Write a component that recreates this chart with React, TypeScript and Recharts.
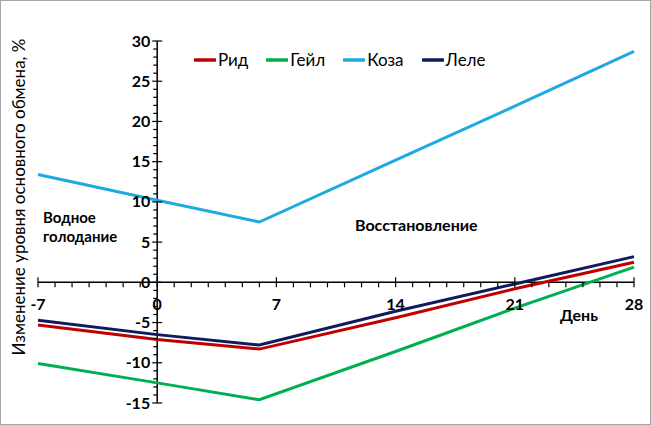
import { LineChart, Line, XAxis, YAxis, ReferenceLine, Legend } from "recharts";

const days = [-7, 0, 6, 14, 21, 28];
const rid = [-5.3, -7.1, -8.3, -4.4, -0.8, 2.5];
const geil = [-10.1, -12.5, -14.6, -8.6, -3.2, 1.9];
const koza = [13.4, 10.2, 7.5, 15.2, 21.9, 28.7];
const lele = [-4.7, -6.5, -7.8, -3.6, -0.2, 3.2];

const xTicks = Array.from({ length: 36 }, (_, i) => i - 7);
const yTicks = Array.from({ length: 46 }, (_, i) => i - 15);

const series = [
  { key: "rid", name: "Рид", color: "#C00000" },
  { key: "geil", name: "Гейл", color: "#00B050" },
  { key: "koza", name: "Коза", color: "#1FA9E1" },
  { key: "lele", name: "Леле", color: "#0E1C5C" },
];

const data = days.map((d, i) => ({
  day: d,
  rid: rid[i],
  geil: geil[i],
  koza: koza[i],
  lele: lele[i],
}));

const W = 651;
const H = 425;
const M = { top: 41, right: 17, bottom: 12, left: 28 };
const Y_AXIS_W = 10;
const X_AXIS_H = 10;
const PLOT_L = M.left + Y_AXIS_W;
const PLOT_W = W - PLOT_L - M.right;
const PLOT_H = H - M.top - M.bottom - X_AXIS_H;
// where the axes cross (value 0 on each)
const X0 = PLOT_L + (7 / 35) * PLOT_W;
const Y0 = M.top + (30 / 45) * PLOT_H;

const FONT = "Lato, 'Open Sans', sans-serif";

const XTick = (props: any) => {
  const { x, payload } = props;
  const v = payload.value;
  const major = v % 7 === 0;
  return (
    <g>
      <line x1={x} x2={x} y1={major ? Y0 - 5 : Y0} y2={Y0 + 5} stroke="#000" strokeWidth={1.2} />
      {major && (
        <text x={x} y={Y0 + 28} textAnchor="middle" fontFamily={FONT} fontWeight="bold" fontSize={16} fill="#000">
          {v}
        </text>
      )}
    </g>
  );
};

const YTick = (props: any) => {
  const { y, payload } = props;
  const v = payload.value;
  const major = v % 5 === 0;
  return (
    <g>
      <line x1={major ? X0 - 5 : X0 - 4} x2={major ? X0 + 5 : X0} y1={y} y2={y} stroke="#000" strokeWidth={1.2} />
      {major && (
        <text x={X0 - 7} y={y + 5.5} textAnchor="end" fontFamily={FONT} fontWeight="bold" fontSize={16} fill="#000">
          {v}
        </text>
      )}
    </g>
  );
};

const LegendContent = () => (
  <div style={{ display: "flex", fontFamily: FONT, fontSize: 17, lineHeight: "20px", color: "#000" }}>
    {series.map((s) => (
      <div key={s.key} style={{ display: "flex", alignItems: "center", marginRight: 18 }}>
        <svg width={22} height={10} style={{ marginRight: 2 }}>
          <line x1={1} x2={21} y1={5} y2={5} stroke={s.color} strokeWidth={3.5} strokeLinecap="round" />
        </svg>
        <span>{s.name}</span>
      </div>
    ))}
  </div>
);

const App = () => (
  <div style={{ position: "absolute", left: 0, top: 0, width: W, height: H, background: "#fff" }}>
    <LineChart width={W} height={H} data={data} margin={M}>
      <XAxis
        type="number"
        dataKey="day"
        domain={[-7, 28]}
        ticks={xTicks}
        interval={0}
        height={X_AXIS_H}
        axisLine={false}
        tickLine={false}
        tick={<XTick />}
      />
      <YAxis
        type="number"
        domain={[-15, 30]}
        ticks={yTicks}
        interval={0}
        width={Y_AXIS_W}
        axisLine={false}
        tickLine={false}
        tick={<YTick />}
      />
      <ReferenceLine y={0} stroke="#000" strokeWidth={1.5} />
      <ReferenceLine x={0} stroke="#000" strokeWidth={1.5} />
      {series.map((s) => (
        <Line
          key={s.key}
          type="linear"
          dataKey={s.key}
          name={s.name}
          stroke={s.color}
          strokeWidth={3}
          dot={false}
          isAnimationActive={false}
        />
      ))}
      <Legend
        layout="horizontal"
        verticalAlign="middle"
        align="center"
        content={<LegendContent />}
        wrapperStyle={{ position: "absolute", top: 50, left: 194, width: "auto", height: "auto" }}
      />
      <text fontFamily={FONT} fontWeight="bold" fontSize={15} fill="#000">
        <tspan x={43} y={223}>Водное</tspan>
        <tspan x={43} y={242}>голодание</tspan>
      </text>
      <text x={355} y={231} fontFamily={FONT} fontWeight="bold" fontSize={16} fill="#000">
        Восстановление
      </text>
      <text x={560} y={321} fontFamily={FONT} fontWeight="bold" fontSize={16} fill="#000">
        День
      </text>
      <text
        x={25}
        y={197}
        transform="rotate(-90 25 197)"
        textAnchor="middle"
        fontFamily={FONT}
        fontSize={17}
        fill="#000"
      >
        Изменение уровня основного обмена, %
      </text>
    </LineChart>
    <div
      style={{
        position: "absolute",
        left: 0,
        top: 0,
        width: W,
        height: H,
        boxSizing: "border-box",
        border: "1px solid #A6A6A6",
        pointerEvents: "none",
      }}
    />
  </div>
);

export default App;
